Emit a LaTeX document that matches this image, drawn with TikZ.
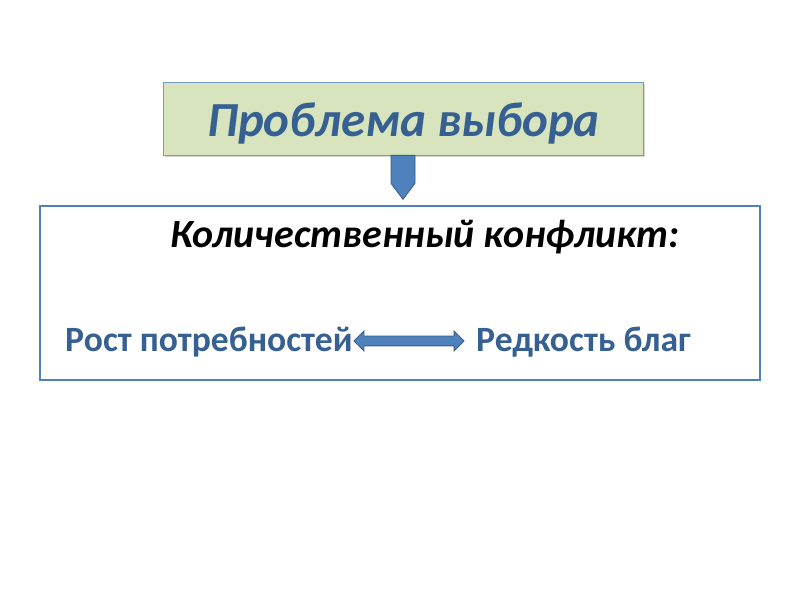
\documentclass[tikz,border=0pt]{standalone}
\usepackage{fontspec}
\setmainfont{Carlito}
\usetikzlibrary{shapes.arrows,shadows}
\definecolor{accent}{HTML}{4F81BD}
\definecolor{accentdark}{HTML}{385D8A}
\definecolor{titlefill}{HTML}{D7E4BD}
\definecolor{textblue}{HTML}{376092}
\tikzset{
  titlebox/.style={draw=accent!80!white, line width=0.8pt, fill=titlefill, minimum width=480pt, minimum height=73pt, inner sep=0pt,
    drop shadow={shadow xshift=1.5pt, shadow yshift=-2pt, opacity=0.35}},
  mainbox/.style={draw=accent, line width=1.5pt, minimum width=720pt, minimum height=174pt, inner sep=0pt},
  bluetext/.style={font=\bfseries\fontsize{35.6}{40}\selectfont, text=textblue, inner sep=0pt, anchor=base west},
  shapefill/.style={fill=accent, draw=accentdark, line width=0.8pt}
}
\begin{document}
\begin{tikzpicture}[x=1pt,y=1pt]
\useasboundingbox (0,0) rectangle (800,600);
\node[titlebox] (title) at (403,481.5) {};
\node[font=\bfseries\itshape\fontsize{49}{56}\selectfont, text=textblue, inner sep=0pt, anchor=base west] (titletext) at (207,463) {Проблема выбора};
\node[mainbox] (main) at (400,307) {};
\node[font=\bfseries\itshape\fontsize{40}{46}\selectfont, inner sep=0pt, anchor=base west] (qty) at (170,352) {Количественный конфликт:};
\node[bluetext] (growth) at (65,248) {Рост потребностей};
\node[bluetext] (scarce) at (476,248) {Редкость благ};
\draw[shapefill] ([xshift=-12pt]title.south) -- ([xshift=-12pt,yshift=-28pt]title.south) -- ([yshift=-44pt]title.south) -- ([xshift=12pt,yshift=-28pt]title.south) -- ([xshift=12pt]title.south) -- cycle;
\node[double arrow, shapefill, inner xsep=0pt, inner ysep=4.5pt, double arrow head extend=5pt, minimum height=110pt, double arrow head indent=0pt] (dbl) at (409,259) {};
\end{tikzpicture}
\end{document}
